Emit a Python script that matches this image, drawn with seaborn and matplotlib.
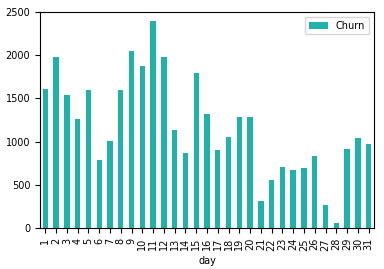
import matplotlib
matplotlib.use("Agg")
import matplotlib.pyplot as plt
import seaborn as sns
import pandas as pd

days = [str(d) for d in range(1, 32)]
churn = [1606, 1976, 1537, 1263, 1595, 786, 1005, 1595, 2049, 1876,
         2396, 1976, 1136, 871, 1795, 1317, 901, 1055, 1283, 1283,
         312, 555, 709, 670, 693, 836, 266, 62, 917, 1044, 971]

df = pd.DataFrame({"day": days, "Churn": churn})

plt.rcParams["font.size"] = 7
fig = plt.figure(figsize=(3.84, 2.69), dpi=100)
ax = fig.add_axes([0.104, 0.151, 0.870, 0.805])
sns.barplot(data=df, x="day", y="Churn", color="#20B2AA", width=0.5,
            saturation=1, label="Churn", ax=ax)
ax.set_xlim(-0.5, 30.5)
ax.set_ylim(0, 2500)
ax.set_yticks([0, 500, 1000, 1500, 2000, 2500])
ax.tick_params(axis="x", rotation=90)
ax.set_ylabel("")
ax.set_xlabel("day")
ax.legend(loc="upper right")
fig.savefig("out.png", dpi=100)
